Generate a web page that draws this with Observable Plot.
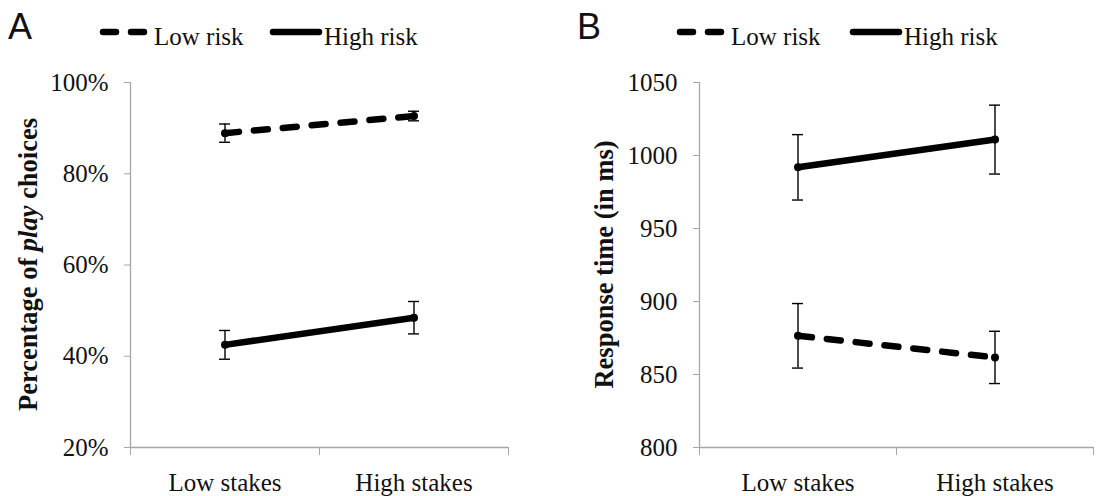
<!DOCTYPE html>
<html>
<head>
<meta charset="utf-8">
<script src="https://cdn.jsdelivr.net/npm/d3@7"></script>
<script src="https://cdn.jsdelivr.net/npm/@observablehq/plot@0.6"></script>
<style>
  html, body { margin: 0; padding: 0; background: #fff; }
  #wrap { position: relative; width: 1101px; height: 496px; overflow: hidden; }
  #head { position: absolute; left: 0; top: 0; }
  #pa { position: absolute; left: 0; top: 70px; }
  #pb { position: absolute; left: 560px; top: 70px; }
</style>
</head>
<body>
<div id="wrap">
  <svg id="head" width="1101" height="70"></svg>
  <div id="pa"></div>
  <div id="pb"></div>
</div>
<script>
// Conditions on the x axis and the two risk series
const categories = ["Low stakes", "High stakes"];
const series = ["Low risk", "High risk"];

// Panel A: percentage of play choices (mean, error)
const playLowRisk = [88.9, 92.65];
const playLowRiskErr = [2.0, 1.05];
const playHighRisk = [42.5, 48.45];
const playHighRiskErr = [3.15, 3.55];
const playTicks = [20, 40, 60, 80, 100];

// Panel B: response time in ms (mean, error)
const rtLowRisk = [876.5, 861.7];
const rtLowRiskErr = [22.1, 17.9];
const rtHighRisk = [991.9, 1010.9];
const rtHighRiskErr = [22.4, 23.6];
const rtTicks = [800, 850, 900, 950, 1000, 1050];

const serif = "Liberation Serif, Times New Roman, serif";
const axisGray = "#a6a6a6";
const ink = "#111";

function rows(lowVals, lowErr, highVals, highErr) {
  const out = [];
  [[lowVals, lowErr, series[0]], [highVals, highErr, series[1]]].forEach(([v, e, s]) => {
    categories.forEach((c, i) => {
      out.push({risk: s, cat: c, xi: i + 0.5, value: v[i], lo: v[i] - e[i], hi: v[i] + e[i]});
    });
  });
  return out;
}

function panel({data, ticks, fmt, marginLeft, marginRight, width, labelX, labelParts}) {
  const yMin = ticks[0], yMax = ticks[ticks.length - 1];
  const low = data.filter(d => d.risk === series[0]);
  const high = data.filter(d => d.risk === series[1]);
  const svg = Plot.plot({
    width, height: 426,
    marginLeft, marginRight, marginTop: 12, marginBottom: 49,
    style: {fontFamily: serif, fontSize: "25px", color: ink, background: "transparent", overflow: "visible"},
    x: {domain: [0, 2]},
    y: {domain: [yMin, yMax]},
    marks: [
      Plot.ruleX([0], {stroke: axisGray, strokeWidth: 1.3}),
      Plot.ruleY([yMin], {stroke: axisGray, strokeWidth: 1.3}),
      Plot.axisY({ticks, tickSize: 6, tickPadding: 16, tickFormat: fmt, label: null, stroke: axisGray, fill: ink}),
      Plot.axisX({ticks: [0, 1, 2], tickSize: 8, tickFormat: () => "", label: null, stroke: axisGray}),
      Plot.axisX({ticks: [0.5, 1.5], tickSize: 0, tickPadding: 26, tickFormat: d => categories[Math.floor(d)], label: null, fill: ink}),
      // error bars with caps
      Plot.ruleX(data, {x: "xi", y1: "lo", y2: "hi", stroke: "#000", strokeWidth: 1.4}),
      Plot.ruleY(data, {y: "hi", x1: "xi", x2: "xi", insetLeft: -5.5, insetRight: -5.5, stroke: "#000", strokeWidth: 1.4}),
      Plot.ruleY(data, {y: "lo", x1: "xi", x2: "xi", insetLeft: -5.5, insetRight: -5.5, stroke: "#000", strokeWidth: 1.4}),
      // series lines
      Plot.line(low, {x: "xi", y: "value", stroke: "#000", strokeWidth: 6.5, strokeLinecap: "round", strokeDasharray: "14,15"}),
      Plot.line(high, {x: "xi", y: "value", stroke: "#000", strokeWidth: 6.5, strokeLinecap: "round"}),
      Plot.dot(data, {x: "xi", y: "value", r: 4, fill: "#000"})
    ]
  });
  const t = d3.select(svg).append("text")
    .attr("transform", `translate(${labelX},${(12 + 377) / 2}) rotate(-90)`)
    .attr("text-anchor", "middle")
    .attr("dy", "0.35em")
    .attr("font-family", serif)
    .attr("font-size", "26.5px")
    .attr("font-weight", "bold")
    .attr("fill", ink);
  labelParts.forEach(([txt, italic]) => {
    const s = t.append("tspan").text(txt);
    if (italic) s.attr("font-style", "italic");
  });
  return svg;
}

document.getElementById("pa").append(panel({
  data: rows(playLowRisk, playLowRiskErr, playHighRisk, playHighRiskErr),
  ticks: playTicks, fmt: d => d + "%",
  marginLeft: 130, marginRight: 42, width: 550, labelX: 28,
  labelParts: [["Percentage of ", false], ["play", true], [" choices", false]]
}));

document.getElementById("pb").append(panel({
  data: rows(rtLowRisk, rtLowRiskErr, rtHighRisk, rtHighRiskErr),
  ticks: rtTicks, fmt: d => String(d),
  marginLeft: 139, marginRight: 8, width: 541, labelX: 44,
  labelParts: [["Response time (in ms)", false]]
}));

// Panel letters and legends
const head = d3.select("#head");
function legend(letter, letterX, dashX, solidX) {
  head.append("text").attr("x", letterX).attr("y", 39)
    .attr("font-family", "Liberation Sans, Arial, sans-serif").attr("font-size", "36px").attr("fill", ink).text(letter);
  head.append("line").attr("x1", dashX + 3).attr("x2", dashX + 44).attr("y1", 32).attr("y2", 32)
    .attr("stroke", "#000").attr("stroke-width", 6.5).attr("stroke-linecap", "round").attr("stroke-dasharray", "13,15");
  head.append("text").attr("x", dashX + 54).attr("y", 45)
    .attr("font-family", serif).attr("font-size", "25px").attr("fill", ink).text(series[0]);
  head.append("line").attr("x1", solidX + 3).attr("x2", solidX + 49).attr("y1", 32).attr("y2", 32)
    .attr("stroke", "#000").attr("stroke-width", 6.5).attr("stroke-linecap", "round");
  head.append("text").attr("x", solidX + 54).attr("y", 45)
    .attr("font-family", serif).attr("font-size", "25px").attr("fill", ink).text(series[1]);
}
legend("A", 8, 100, 270);
legend("B", 577, 677, 850);
</script>
</body>
</html>
